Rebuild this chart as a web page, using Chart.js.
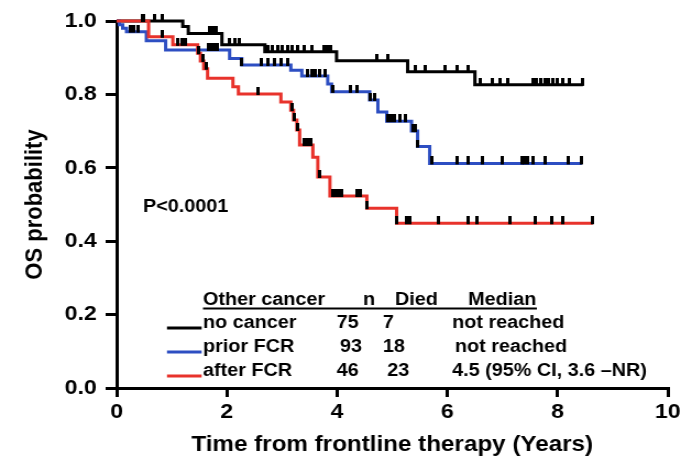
<!DOCTYPE html>
<html><head><meta charset="utf-8">
<script src="https://cdn.jsdelivr.net/npm/chart.js@4.4.0/dist/chart.umd.min.js"></script>
<style>html,body{margin:0;padding:0;background:#fff;overflow:hidden}</style></head>
<body><canvas id="c" width="619" height="465" style="width:681px;height:465px;display:block"></canvas>
<script>
// ---- data (years, survival probability) ----
const groupNames = ['no cancer', 'prior FCR', 'after FCR'];
const groupN = ['75', '93', '46'];
const groupDied = ['7', '18', '23'];
const groupMedian = ['not reached', 'not reached', '4.5 (95% CI, 3.6 \u2013NR)'];
const tableHeader = ['Other cancer', 'n', 'Died', 'Median'];
const pValueText = 'P<0.0001';

const noCancerTimes = [0, 1.2, 1.3, 1.91, 2.69, 3.99, 5.28, 6.50, 8.46];
const noCancerSurv  = [1.0, 0.985, 0.966, 0.935, 0.916, 0.892, 0.862, 0.826, 0.826];
const noCancerCensor = [0.47, 0.69, 0.83, 1.69, 1.74, 1.80, 2.05, 2.14, 2.23, 2.74, 2.83, 2.92, 3.01, 3.10, 3.19, 3.28, 3.41, 3.54, 3.77, 3.83, 3.88, 4.72, 4.92, 5.41, 5.59, 5.95, 6.17, 6.37, 6.59, 6.81, 6.95, 7.10, 7.55, 7.62, 7.70, 7.77, 7.84, 7.91, 7.99, 8.09, 8.22, 8.46];

const priorTimes = [0, 0.05, 0.11, 0.18, 0.54, 0.89, 2.05, 2.27, 3.16, 3.36, 3.83, 3.90, 4.59, 4.74, 4.90, 5.35, 5.46, 5.68, 8.44];
const priorSurv  = [1.0, 0.99, 0.98, 0.971, 0.946, 0.921, 0.898, 0.880, 0.866, 0.850, 0.828, 0.807, 0.785, 0.752, 0.727, 0.700, 0.658, 0.612, 0.612];
const priorCensor = [0.24, 0.31, 0.38, 1.67, 1.72, 1.78, 1.83, 2.27, 2.63, 2.74, 2.87, 2.99, 3.10, 3.47, 3.54, 3.61, 3.68, 3.79, 3.92, 4.25, 4.36, 4.61, 4.68, 4.93, 4.99, 5.04, 5.14, 5.23, 5.37, 5.41, 5.46, 5.72, 6.17, 6.37, 6.64, 6.99, 7.35, 7.40, 7.46, 7.55, 7.77, 8.19, 8.44];

const afterTimes = [0, 0.58, 1.02, 1.47, 1.52, 1.58, 1.65, 2.11, 2.21, 2.98, 3.16, 3.21, 3.27, 3.32, 3.56, 3.65, 3.87, 4.54, 5.08, 8.64];
const afterSurv  = [1.0, 0.957, 0.935, 0.912, 0.891, 0.870, 0.844, 0.821, 0.801, 0.779, 0.757, 0.730, 0.703, 0.662, 0.629, 0.575, 0.523, 0.490, 0.449, 0.449];
const afterCensor = [0.49, 0.82, 1.11, 1.18, 1.25, 1.49, 1.56, 1.63, 2.56, 3.18, 3.23, 3.28, 3.41, 3.47, 3.52, 3.68, 3.92, 3.97, 4.03, 4.08, 4.36, 4.43, 4.54, 5.08, 5.26, 5.32, 5.83, 6.37, 6.53, 7.13, 7.59, 7.89, 8.09, 8.64];

const yTicks = [0, 0.2, 0.4, 0.6, 0.8, 1.0];
const xTicks = [0, 2, 4, 6, 8, 10];

// ---- styles ----
const colors = ['#000000', '#2d4ec2', '#e8322b'];
const FONT = 'Arial, "Liberation Sans", Helvetica, sans-serif';
Chart.defaults.font.family = FONT;
Chart.defaults.color = '#000';

const tickImg = document.createElement('canvas');
tickImg.width = 3; tickImg.height = 14;
const tctx = tickImg.getContext('2d');
tctx.fillStyle = '#000';
tctx.fillRect(0, 0, 3, 8);

function survAt(times, surv, t) {
  let s = surv[0];
  for (let i = 0; i < times.length; i++) if (times[i] <= t + 1e-9) s = surv[i];
  return s;
}
function curve(label, times, surv, color, order) {
  return { type: 'line', label, data: times.map((t, i) => ({ x: t, y: surv[i] })),
    borderColor: color, borderWidth: 3, stepped: 'before', pointRadius: 0,
    fill: false, clip: false, order, tension: 0 };
}
function censors(times, surv, cens, order) {
  return { type: 'line', showLine: false, data: cens.map(t => ({ x: t, y: survAt(times, surv, t) })),
    pointStyle: tickImg, pointRadius: 3, clip: false, order };
}

const tablePlugin = {
  id: 'kmTable',
  afterDraw(chart) {
    const ctx = chart.ctx;
    ctx.save();
    ctx.fillStyle = '#000';
    ctx.textBaseline = 'alphabetic';
    ctx.font = 'bold 18px ' + FONT;
    // p-value
    ctx.fillText(pValueText, 130, 212);
    // header
    const colX = [184.5, 330, 359, 425.5];
    tableHeader.forEach((h, i) => ctx.fillText(h, colX[i], 305));
    ctx.fillRect(184.5, 307.5, 303.5, 2);
    const rowY = [328, 352, 376];
    const nX = [306, 309, 306], dX = [348, 348, 352], mX = [411, 413.5, 411];
    groupNames.forEach((g, i) => {
      ctx.fillStyle = '#000';
      ctx.fillText(g, 184.5, rowY[i]);
      ctx.fillText(groupN[i], nX[i], rowY[i]);
      ctx.fillText(groupDied[i], dX[i], rowY[i]);
      ctx.fillText(groupMedian[i], mX[i], rowY[i]);
      ctx.fillStyle = colors[i];
      ctx.fillRect(151.8, rowY[i] - 1.5, 31.5, 3);
    });
    ctx.restore();
  }
};

new Chart(document.getElementById('c'), {
  type: 'line',
  data: {
    datasets: [
      censors(noCancerTimes, noCancerSurv, noCancerCensor, 0),
      censors(priorTimes, priorSurv, priorCensor, 0),
      censors(afterTimes, afterSurv, afterCensor, 0),
      curve(groupNames[2], afterTimes, afterSurv, colors[2], 1),
      curve(groupNames[1], priorTimes, priorSurv, colors[1], 2),
      curve(groupNames[0], noCancerTimes, noCancerSurv, colors[0], 3)
    ]
  },
  options: {
    responsive: false,
    devicePixelRatio: 1,
    animation: false,
    events: [],
    layout: { padding: { top: 21, right: 12, bottom: 0, left: 0 } },
    plugins: { legend: { display: false }, tooltip: { enabled: false } },
    scales: {
      x: {
        type: 'linear', min: 0, max: 10,
        afterBuildTicks(s) { s.ticks = xTicks.map(v => ({ value: v })); },
        ticks: { color: '#000', font: { size: 21, weight: 'bold' }, padding: 3, maxRotation: 0, autoSkip: false },
        grid: { drawOnChartArea: false, drawTicks: true, tickLength: 9, color: '#000', lineWidth: 3 },
        border: { display: true, color: '#000', width: 3 },
        title: { display: true, text: 'Time from frontline therapy (Years)', color: '#000',
          font: { size: 22, weight: 'bold' }, padding: { top: 0, bottom: 7 } },
        afterFit(s) { s.height = 77; s.paddingLeft = 0; s.paddingRight = 0; }
      },
      y: {
        type: 'linear', min: 0, max: 1,
        afterBuildTicks(s) { s.ticks = yTicks.map(v => ({ value: v })); },
        ticks: { color: '#000', font: { size: 21, weight: 'bold' }, padding: 8,
          callback: v => Number(v).toFixed(1) },
        grid: { drawOnChartArea: false, drawTicks: true, tickLength: 10, color: '#000', lineWidth: 3 },
        border: { display: true, color: '#000', width: 3 },
        title: { display: true, text: 'OS probability', color: '#000',
          font: { size: 22, weight: 'bold' }, padding: { top: 19, bottom: 0 } },
        afterFit(s) { s.width = 106; s.paddingTop = 0; s.paddingBottom = 0; }
      }
    }
  },
  plugins: [tablePlugin]
});
</script>
</body></html>
